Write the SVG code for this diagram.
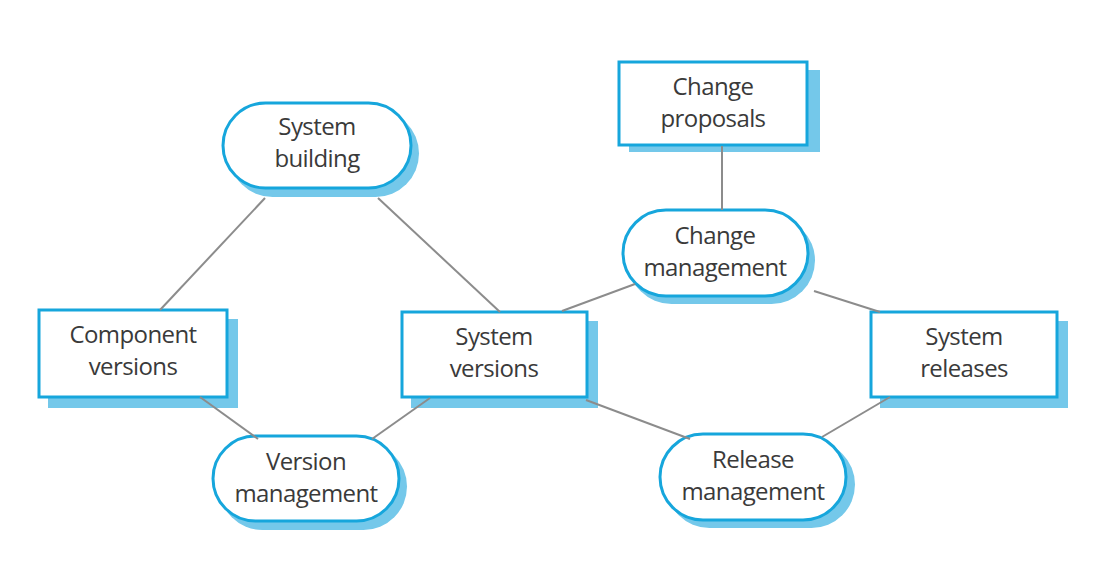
<svg xmlns="http://www.w3.org/2000/svg" width="1105" height="587" viewBox="0 0 1105 587">
<style>
.shadow{fill:#74c8ea;stroke:none}
.box{fill:#ffffff;stroke:#16a6dc;stroke-width:3}
.lbl{font-family:"Open Sans","Noto Sans",sans-serif;font-size:24px;fill:#3a3a3a;text-anchor:middle;letter-spacing:-0.6px}
.conn line{stroke:#8c8c8c;stroke-width:2}
</style>
<rect width="1105" height="587" fill="#ffffff"/>
<g id="system-building">
<rect class="shadow" x="229" y="110" width="190" height="87" rx="43.5"/>
<rect class="box" x="223" y="103" width="188" height="85" rx="42.5"/>
<text class="lbl" x="317" y="135">System</text>
<text class="lbl" x="317" y="167">building</text>
</g>
<g id="component-versions">
<rect class="shadow" x="48" y="319" width="190" height="89"/>
<rect class="box" x="39" y="310" width="188" height="87"/>
<text class="lbl" x="133" y="343">Component</text>
<text class="lbl" x="133" y="375">versions</text>
</g>
<g id="version-management">
<rect class="shadow" x="219" y="443" width="188" height="87" rx="43.5"/>
<rect class="box" x="213" y="436" width="186" height="85" rx="42.5"/>
<text class="lbl" x="306" y="470">Version</text>
<text class="lbl" x="306" y="502">management</text>
</g>
<g id="system-versions">
<rect class="shadow" x="411" y="321" width="187" height="87"/>
<rect class="box" x="402" y="312" width="185" height="85"/>
<text class="lbl" x="494" y="345">System</text>
<text class="lbl" x="494" y="377">versions</text>
</g>
<g id="change-proposals">
<rect class="shadow" x="629" y="70" width="191" height="82"/>
<rect class="box" x="619" y="62" width="188" height="83"/>
<text class="lbl" x="713" y="95">Change</text>
<text class="lbl" x="713" y="127">proposals</text>
</g>
<g id="change-management">
<rect class="shadow" x="628" y="217" width="187" height="87" rx="43.5"/>
<rect class="box" x="623" y="210" width="185" height="86" rx="43"/>
<text class="lbl" x="715" y="244">Change</text>
<text class="lbl" x="715" y="276">management</text>
</g>
<g id="system-releases">
<rect class="shadow" x="880" y="321" width="188" height="87"/>
<rect class="box" x="871" y="312" width="186" height="85"/>
<text class="lbl" x="964" y="345">System</text>
<text class="lbl" x="964" y="377">releases</text>
</g>
<g id="release-management">
<rect class="shadow" x="666" y="441" width="189" height="87" rx="43.5"/>
<rect class="box" x="660" y="434" width="186" height="86" rx="43"/>
<text class="lbl" x="753" y="468">Release</text>
<text class="lbl" x="753" y="500">management</text>
</g>
<g id="connectors" class="conn">
<line x1="265" y1="198" x2="160" y2="310"/>
<line x1="378" y1="198" x2="500" y2="312"/>
<line x1="200" y1="397" x2="258" y2="439"/>
<line x1="430" y1="398" x2="372" y2="439"/>
<line x1="562" y1="311" x2="635" y2="284"/>
<line x1="722" y1="146" x2="722" y2="210"/>
<line x1="814" y1="291" x2="880" y2="312"/>
<line x1="586" y1="400" x2="690" y2="439"/>
<line x1="890" y1="397" x2="822" y2="437"/>
</g>
</svg>
